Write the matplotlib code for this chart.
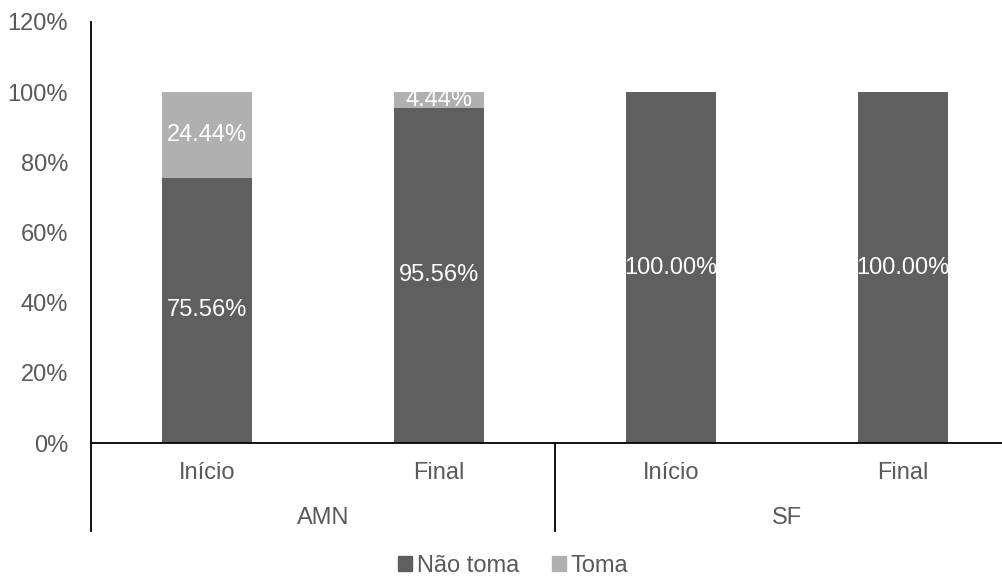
import matplotlib.pyplot as plt
from matplotlib.patches import Patch

plt.rcParams["font.family"] = ["Liberation Sans", "DejaVu Sans"]

# data
groups = ["AMN", "SF"]
moments = ["Início", "Final", "Início", "Final"]
nao_toma = [75.56, 95.56, 100.00, 100.00]
toma = [24.44, 4.44, 0.0, 0.0]
yticks = [0, 20, 40, 60, 80, 100, 120]

dark = "#5f5f5f"
light = "#b0b0b0"
txt = "#595959"
fs = 17

fig = plt.figure(figsize=(10.03, 5.76), dpi=100)
W, H = 1003, 576
# axes in pixel coords: left 91, right 1019, top 22, bottom 443
ax = fig.add_axes([91 / W, 1 - 443 / H, 928 / W, 421 / H])

x = list(range(len(moments)))
bw = 0.39
ax.bar(x, nao_toma, width=bw, color=dark, label="Não toma")
ax.bar(x, toma, width=bw, bottom=nao_toma, color=light, label="Toma")

for i in x:
    ax.text(i, nao_toma[i] / 2, f"{nao_toma[i]:.2f}%", ha="center", va="center",
            color="white", fontsize=fs)
    if toma[i] > 0:
        ax.text(i, nao_toma[i] + toma[i] / 2, f"{toma[i]:.2f}%", ha="center",
                va="center", color="white", fontsize=fs)

ax.set_xlim(-0.5, 3.5)
ax.set_ylim(0, 120)
ax.set_yticks(yticks)
ax.set_yticklabels([f"{v}%" for v in yticks], color=txt, fontsize=fs)
ax.tick_params(axis="y", length=0, pad=16.5)
ax.set_xticks([])
for s in ["top", "right"]:
    ax.spines[s].set_visible(False)
ax.spines["left"].set_color("black")
ax.spines["left"].set_linewidth(1.3)
ax.spines["bottom"].set_color("black")
ax.spines["bottom"].set_linewidth(1.3)

# category labels below axis
for i in x:
    ax.text(i, -8.5, moments[i], ha="center", va="center", color=txt, fontsize=fs,
            clip_on=False)
for g, gname in enumerate(groups):
    ax.text(0.5 + 2 * g, -21.5, gname, ha="center", va="center", color=txt,
            fontsize=fs, clip_on=False)
for xs in [-0.5, 1.5]:
    ax.plot([xs, xs], [0, -25], color="black", lw=1.3, clip_on=False)

handles = [Patch(color=dark, label="Não toma"), Patch(color=light, label="Toma")]
fig.legend(handles=handles, loc="center", bbox_to_anchor=(513 / W, 1 - 566 / H),
           ncol=2, frameon=False, fontsize=fs, handlelength=0.6, handleheight=0.6,
           handletextpad=0.2, columnspacing=1.4, labelcolor=txt)

fig.savefig("out.png", dpi=100)
